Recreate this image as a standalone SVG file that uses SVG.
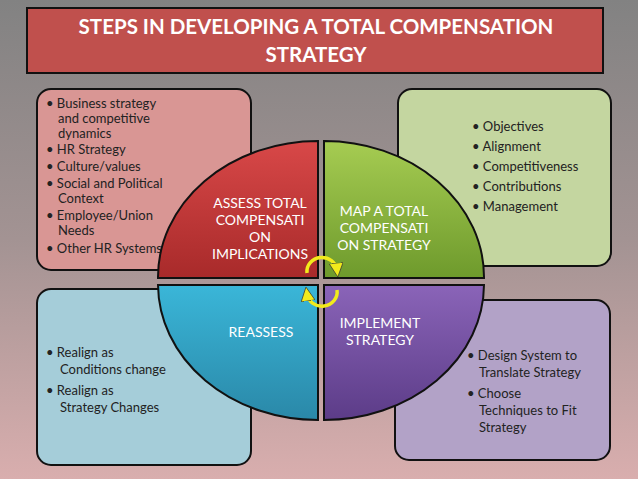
<svg xmlns="http://www.w3.org/2000/svg" width="638" height="479" viewBox="0 0 638 479">
<defs>
<linearGradient id="bg" x1="0" y1="0" x2="0" y2="1"><stop offset="0" stop-color="#828282"/><stop offset="0.5" stop-color="#a39393"/><stop offset="1" stop-color="#d9aeae"/></linearGradient>
<linearGradient id="gr" x1="0" y1="0" x2="0" y2="1"><stop offset="0" stop-color="#d84848"/><stop offset="1" stop-color="#a82a2a"/></linearGradient>
<linearGradient id="gg" x1="0" y1="0" x2="0" y2="1"><stop offset="0" stop-color="#a6cc52"/><stop offset="1" stop-color="#6e9a2c"/></linearGradient>
<linearGradient id="gb" x1="0" y1="0" x2="0" y2="1"><stop offset="0" stop-color="#3ab6d8"/><stop offset="1" stop-color="#2a88a8"/></linearGradient>
<linearGradient id="gp" x1="0" y1="0" x2="0" y2="1"><stop offset="0" stop-color="#8a64b8"/><stop offset="1" stop-color="#5c3c88"/></linearGradient>
<marker id="ah" viewBox="0 0 10 10" refX="5" refY="5" markerWidth="4" markerHeight="4" orient="auto"><path d="M0,0 L10,5 L0,10 Z" fill="#f2ea1c" stroke="#333" stroke-width="0.5"/></marker>
</defs>
<style>
text{font-family:Lato,"Open Sans",sans-serif}
.box{stroke:#111;stroke-width:2}
.lst{font-size:13px;fill:#222}
.q{stroke:#111;stroke-width:2}
.ql{font-size:14px;fill:#fff;text-anchor:middle}
.arc{fill:none;stroke:#f2ea1c;stroke-width:3.5}
</style>
<rect width="638" height="479" fill="url(#bg)"/>
<g id="title"><rect x="27" y="8" width="576" height="65" fill="#c0504d" stroke="#111" stroke-width="2"/>
<text x="316" y="34" font-size="20.5" font-weight="bold" fill="#fff" text-anchor="middle">STEPS IN DEVELOPING A TOTAL COMPENSATION</text>
<text x="316" y="62" font-size="20.5" font-weight="bold" fill="#fff" text-anchor="middle">STRATEGY</text></g>
<g id="box-tl"><rect class="box" x="37" y="89" width="214" height="181" rx="14" fill="#d99694"/>
<text class="lst" x="46" y="108">• Business strategy<tspan x="58" dy="15">and competitive</tspan><tspan x="58" dy="15">dynamics</tspan><tspan x="46" dy="16">• HR Strategy</tspan><tspan x="46" dy="17">• Culture/values</tspan><tspan x="46" dy="17">• Social and Political</tspan><tspan x="58" dy="15">Context</tspan><tspan x="46" dy="17">• Employee/Union</tspan><tspan x="58" dy="15">Needs</tspan><tspan x="46" dy="18">• Other HR Systems</tspan></text></g>
<g id="box-tr"><rect class="box" x="398" y="89" width="213" height="177" rx="14" fill="#c4d6a0"/>
<text class="lst" x="472" y="131" font-size="14.5">• Objectives<tspan x="472" dy="20">• Alignment</tspan><tspan x="472" dy="20">• Competitiveness</tspan><tspan x="472" dy="20">• Contributions</tspan><tspan x="472" dy="20">• Management</tspan></text></g>
<g id="box-bl"><rect class="box" x="37" y="289" width="214" height="176" rx="14" fill="#a5cdd9"/>
<text class="lst" x="46" y="357" font-size="14.5">• Realign as<tspan x="60" dy="17">Conditions change</tspan><tspan x="46" dy="21">• Realign as</tspan><tspan x="60" dy="17">Strategy Changes</tspan></text></g>
<g id="box-br"><rect class="box" x="395" y="300" width="215" height="160" rx="14" fill="#b2a2c7"/>
<text class="lst" x="467" y="360" font-size="14.5">• Design System to<tspan x="479" dy="17">Translate Strategy</tspan><tspan x="467" dy="21">• Choose</tspan><tspan x="479" dy="17">Techniques to Fit</tspan><tspan x="479" dy="17">Strategy</tspan></text></g>
<g id="q-assess"><path class="q" d="M318,278 L158,278 A160,136 0 0 1 318,141 Z" fill="url(#gr)"/>
<text class="ql" x="260" y="208">ASSESS TOTAL<tspan x="260" dy="17">COMPENSATI</tspan><tspan x="260" dy="17">ON</tspan><tspan x="260" dy="17">IMPLICATIONS</tspan></text></g>
<g id="q-map"><path class="q" d="M324,278 L484,278 A160,136 0 0 0 324,141 Z" fill="url(#gg)"/>
<text class="ql" x="384" y="216">MAP A TOTAL<tspan x="384" dy="17">COMPENSATI</tspan><tspan x="384" dy="17">ON STRATEGY</tspan></text></g>
<g id="q-reassess"><path class="q" d="M318,285 L158,285 A160,136 0 0 0 318,420 Z" fill="url(#gb)"/>
<text class="ql" x="261" y="337">REASSESS</text></g>
<g id="q-implement"><path class="q" d="M324,285 L484,285 A160,136 0 0 1 324,420 Z" fill="url(#gp)"/>
<text class="ql" x="380" y="328">IMPLEMENT<tspan x="380" dy="17">STRATEGY</tspan></text></g>
<g id="connectors">
<path class="arc" d="M307,273 A15,14 0 0 1 337,270" marker-end="url(#ah)"/>
<path class="arc" d="M337,290 A15,14 0 0 1 307,294" marker-end="url(#ah)"/>
</g>
</svg>
